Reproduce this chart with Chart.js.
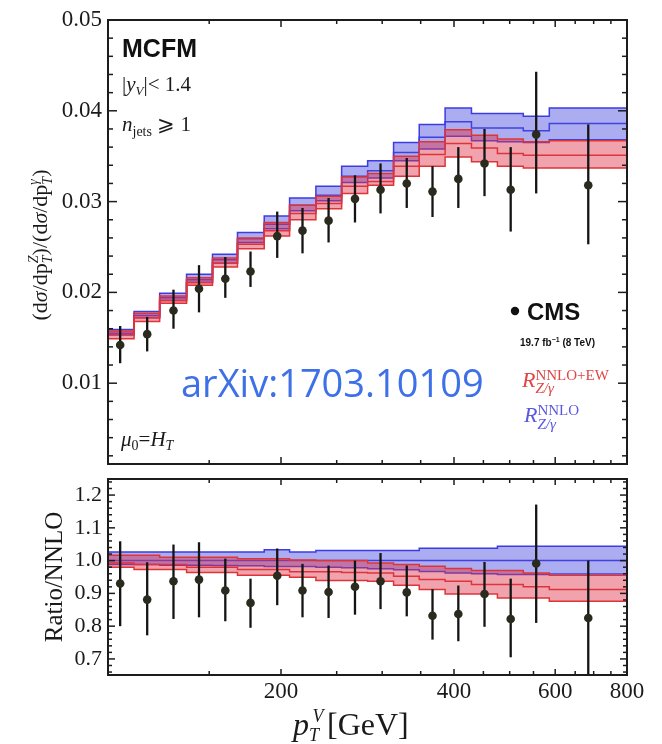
<!DOCTYPE html>
<html>
<head>
<meta charset="utf-8">
<script src="https://cdn.jsdelivr.net/npm/chart.js@4.4.1/dist/chart.umd.min.js"></script>
<style>
  html, body { margin: 0; padding: 0; background: #ffffff; }
  #wrap { position: relative; width: 662px; height: 744px; overflow: hidden; }
  #topPanel { position: absolute; left: 0; top: 0; }
  #ratioPanel { position: absolute; left: 0; top: 458px; }
</style>
</head>
<body>
<div id="wrap">
  <canvas id="topPanel" width="662" height="485"></canvas>
  <canvas id="ratioPanel" width="662" height="286"></canvas>
</div>
<script>
// pT bin edges [GeV] and the point positions inside each bin
const binEdges = [100, 111, 123, 137, 152, 168, 187, 207, 230, 255, 283, 314, 348, 386, 429, 476, 528, 586, 800];
const ptCenters = [105, 117, 130, 144, 160, 177, 197, 218, 242, 269, 298, 331, 367, 407, 452, 502, 556, 685];

// CMS measurement of the Z/gamma ratio (value, lower and upper end of error bar)
const cmsRatio = [0.0142, 0.0154, 0.0180, 0.0204, 0.0215, 0.0223, 0.0262, 0.0268, 0.0279, 0.0303, 0.0313, 0.0320, 0.0311, 0.0325, 0.0342, 0.0313, 0.0374, 0.0318];
const cmsLo    = [0.0122, 0.0135, 0.0160, 0.0178, 0.0194, 0.0206, 0.0238, 0.0243, 0.0255, 0.0277, 0.0287, 0.0293, 0.0283, 0.0293, 0.0306, 0.0267, 0.0309, 0.0253];
const cmsHi    = [0.0163, 0.0173, 0.0203, 0.0230, 0.0239, 0.0245, 0.0289, 0.0293, 0.0304, 0.0329, 0.0342, 0.0348, 0.0339, 0.0360, 0.0380, 0.0360, 0.0443, 0.0385];

// MCFM NNLO prediction: upper edge, central value, lower edge per bin
const nnloUp  = [0.0159, 0.0179, 0.0199, 0.0220, 0.0242, 0.0266, 0.0284, 0.0304, 0.0317, 0.0339, 0.0345, 0.0365, 0.0385, 0.0403, 0.0397, 0.0397, 0.0394, 0.0403];
const nnloMid = [0.0155, 0.01745, 0.0194, 0.0214, 0.0236, 0.0259, 0.0275, 0.0296, 0.0307, 0.0328, 0.0334, 0.0354, 0.0371, 0.0388, 0.0381, 0.0381, 0.0378, 0.0386];
const nnloLo  = [0.0153, 0.0172, 0.0191, 0.0211, 0.0232, 0.0255, 0.0270, 0.0290, 0.0301, 0.0321, 0.0326, 0.0345, 0.0358, 0.0372, 0.0367, 0.0366, 0.0365, 0.0368];

// MCFM NNLO+EW prediction
const ewUp  = [0.01575, 0.0177, 0.0196, 0.0216, 0.0238, 0.0260, 0.0277, 0.0296, 0.0306, 0.0327, 0.0331, 0.0350, 0.0366, 0.0379, 0.0373, 0.0369, 0.0366, 0.0367];
const ewMid = [0.0154, 0.0172, 0.0191, 0.0211, 0.0232, 0.0253, 0.0268, 0.0287, 0.0298, 0.0317, 0.0322, 0.0339, 0.0352, 0.0364, 0.0359, 0.0353, 0.0351, 0.0351];
const ewLo  = [0.0149, 0.0168, 0.0188, 0.0208, 0.0228, 0.0248, 0.0262, 0.0280, 0.0292, 0.0309, 0.0318, 0.0328, 0.0339, 0.0349, 0.0344, 0.0339, 0.0337, 0.0337];

// Ratio to NNLO: data
const ratioCms = [0.930, 0.881, 0.937, 0.942, 0.909, 0.871, 0.954, 0.909, 0.904, 0.920, 0.937, 0.903, 0.832, 0.837, 0.898, 0.822, 0.991, 0.825];
const ratioLo  = [0.800, 0.772, 0.822, 0.827, 0.815, 0.795, 0.864, 0.827, 0.825, 0.835, 0.852, 0.830, 0.759, 0.754, 0.798, 0.705, 0.810, 0.600];
const ratioHi  = [1.059, 0.995, 1.049, 1.056, 1.006, 0.945, 1.037, 0.990, 0.985, 1.000, 1.023, 0.985, 0.913, 0.924, 0.996, 0.945, 1.171, 1.000];

// Ratio to NNLO: theory bands
const nnloRatioUp  = [1.026, 1.026, 1.026, 1.026, 1.026, 1.026, 1.033, 1.026, 1.031, 1.031, 1.031, 1.031, 1.038, 1.038, 1.038, 1.044, 1.044, 1.044];
const nnloRatioMid = [1.000, 1.000, 1.000, 1.000, 1.000, 1.000, 1.000, 1.000, 1.000, 1.000, 1.000, 1.000, 1.000, 1.000, 1.000, 1.000, 1.000, 1.000];
const nnloRatioLo  = [0.988, 0.988, 0.986, 0.986, 0.985, 0.984, 0.982, 0.982, 0.980, 0.978, 0.975, 0.972, 0.967, 0.962, 0.960, 0.958, 0.958, 0.959];
const ewRatioUp  = [1.016, 1.016, 1.010, 1.010, 1.010, 1.006, 1.006, 1.002, 1.000, 1.000, 0.993, 0.988, 0.983, 0.976, 0.970, 0.970, 0.962, 0.955];
const ewRatioMid = [0.993, 0.988, 0.988, 0.980, 0.980, 0.973, 0.973, 0.966, 0.966, 0.964, 0.962, 0.952, 0.942, 0.937, 0.927, 0.927, 0.920, 0.912];
const ewRatioLo  = [0.980, 0.973, 0.973, 0.964, 0.964, 0.955, 0.955, 0.949, 0.939, 0.939, 0.937, 0.925, 0.912, 0.898, 0.898, 0.886, 0.886, 0.876];

// Axis ticks and labels
const xMajorTicks = [200, 400, 600, 800];
const xMajorLabels = ['200', '400', '600', '800'];
const xMinorTicks = [150, 250, 300, 350, 450, 500, 550, 650, 700, 750];
const yTopTicks = [0.01, 0.02, 0.03, 0.04, 0.05];
const yTopLabels = ['0.01', '0.02', '0.03', '0.04', '0.05'];
const yRatioTicks = [0.7, 0.8, 0.9, 1.0, 1.1, 1.2];
const yRatioLabels = ['0.7', '0.8', '0.9', '1.0', '1.1', '1.2'];

const SERIF = '"Liberation Serif", "DejaVu Serif", serif';
const SANS = '"Liberation Sans", "DejaVu Sans", sans-serif';
const RED_LINE = 'rgb(224, 52, 52)';
const RED_FILL = 'rgba(222, 52, 72, 0.45)';
const BLUE_LINE = 'rgb(60, 60, 228)';
const BLUE_FILL = 'rgba(72, 72, 222, 0.45)';
const INK = '#1a1a1a';

// each bin value holds from its left edge to the next edge
function stepPoints(vals) {
  return binEdges.map((e, i) => ({ x: e, y: vals[Math.min(i, vals.length - 1)] }));
}
function markerPoints(vals) {
  return ptCenters.map((x, i) => ({ x: x, y: vals[i] }));
}

function stepLine(vals, color, fillTarget, fillColor) {
  return {
    data: stepPoints(vals),
    stepped: 'before',
    borderColor: color,
    borderWidth: 1.5,
    pointRadius: 0,
    backgroundColor: fillColor || 'transparent',
    fill: fillTarget === undefined ? false : fillTarget
  };
}

function datasetsFor(cms, ewU, ewM, ewL, nU, nM, nL) {
  return [
    { data: markerPoints(cms), showLine: false, pointRadius: 4.3, pointHoverRadius: 4.3,
      pointBackgroundColor: '#2b2a1e', pointBorderWidth: 0, borderColor: '#2b2a1e' },
    stepLine(ewU, RED_LINE, 3, RED_FILL),
    stepLine(ewM, RED_LINE),
    stepLine(ewL, RED_LINE),
    stepLine(nU, BLUE_LINE, 6, BLUE_FILL),
    stepLine(nM, BLUE_LINE),
    stepLine(nL, BLUE_LINE)
  ];
}

// Text with sub/superscripts. Parts: {t, f, dy, c} or {sup, sub, fs, fb, up, dn, c, pad}
function partWidth(ctx, p) {
  if (p.t !== undefined) { ctx.font = p.f; return ctx.measureText(p.t).width; }
  ctx.font = p.fs; const a = ctx.measureText(p.sup).width;
  ctx.font = p.fb; const b = ctx.measureText(p.sub).width;
  return Math.max(a, b) + (p.pad || 0);
}
function drawRich(ctx, x, y, parts, align, color) {
  let total = 0;
  parts.forEach(p => { total += partWidth(ctx, p); });
  let cx = align === 'center' ? x - total / 2 : x;
  ctx.textAlign = 'left';
  ctx.textBaseline = 'alphabetic';
  parts.forEach(p => {
    const w = partWidth(ctx, p);
    ctx.fillStyle = p.c || color || INK;
    if (p.t !== undefined) {
      ctx.font = p.f;
      ctx.fillText(p.t, cx, y + (p.dy || 0));
    } else {
      ctx.font = p.fs; ctx.fillText(p.sup, cx + (p.pad || 0) / 2, y + p.up);
      ctx.font = p.fb; ctx.fillText(p.sub, cx, y + p.dn);
    }
    cx += w;
  });
}

// Frame, inward tick marks, error bars and panel text
function makeDeco(cfg) {
  return {
    id: 'deco_' + cfg.name,
    beforeDatasetDraw(chart, args) {
      if (args.index !== 0) return;
      const ctx = chart.ctx, a = chart.chartArea;
      const xs = chart.scales.x, ys = chart.scales.y;
      ctx.save();
      ctx.beginPath();
      ctx.rect(a.left, a.top, a.right - a.left, a.bottom - a.top);
      ctx.clip();
      ctx.strokeStyle = '#141414';
      ctx.lineWidth = 2.3;
      cfg.lo.forEach((lo, i) => {
        const x = xs.getPixelForValue(ptCenters[i]);
        ctx.beginPath();
        ctx.moveTo(x, ys.getPixelForValue(lo));
        ctx.lineTo(x, ys.getPixelForValue(cfg.hi[i]));
        ctx.stroke();
      });
      ctx.restore();
    },
    afterDraw(chart) {
      const ctx = chart.ctx, a = chart.chartArea;
      const xs = chart.scales.x, ys = chart.scales.y;
      ctx.save();
      ctx.strokeStyle = '#1c1c1c';
      ctx.lineWidth = 1.5;
      const seg = (x1, y1, x2, y2) => { ctx.beginPath(); ctx.moveTo(x1, y1); ctx.lineTo(x2, y2); ctx.stroke(); };
      xMajorTicks.forEach(v => {
        const x = xs.getPixelForValue(v);
        seg(x, a.top, x, a.top + cfg.xMaj); seg(x, a.bottom, x, a.bottom - cfg.xMaj);
      });
      xMinorTicks.forEach(v => {
        const x = xs.getPixelForValue(v);
        seg(x, a.top, x, a.top + cfg.xMin); seg(x, a.bottom, x, a.bottom - cfg.xMin);
      });
      cfg.yMajor.forEach(v => {
        const y = ys.getPixelForValue(v);
        seg(a.left, y, a.left + cfg.yMaj, y); seg(a.right, y, a.right - cfg.yMaj, y);
      });
      cfg.yMinor.forEach(v => {
        const y = ys.getPixelForValue(v);
        if (y < a.top || y > a.bottom) return;
        seg(a.left, y, a.left + cfg.yMin, y); seg(a.right, y, a.right - cfg.yMin, y);
      });
      ctx.lineWidth = 2;
      ctx.strokeRect(a.left, a.top, a.right - a.left, a.bottom - a.top);
      cfg.text(ctx, chart);
      ctx.restore();
    }
  };
}

function minorList(start, stop, step, majors) {
  const out = [];
  for (let k = 0; start + k * step <= stop + 1e-9; k++) {
    const v = +(start + k * step).toFixed(4);
    if (!majors.some(m => Math.abs(m - v) < 1e-6)) out.push(v);
  }
  return out;
}

function baseOptions(yMin, yMax, yTicks, yLabels, yFont, xShown, xHeight) {
  return {
    responsive: false,
    animation: false,
    events: [],
    plugins: { legend: { display: false }, tooltip: { enabled: false } },
    scales: {
      x: {
        type: 'logarithmic', min: 100, max: 800,
        display: xShown,
        grid: { display: false, drawTicks: false },
        border: { display: false },
        afterBuildTicks: (s) => { s.ticks = xMajorTicks.map(v => ({ value: v })); },
        afterFit: (s) => { s.height = xHeight; },
        ticks: {
          autoSkip: false, maxRotation: 0, minRotation: 0, padding: 3,
          font: { family: SERIF, size: 23 }, color: INK,
          callback: (v, i) => xMajorLabels[i]
        }
      },
      y: {
        type: 'linear', min: yMin, max: yMax,
        grid: { display: false, drawTicks: false },
        border: { display: false },
        afterBuildTicks: (s) => { s.ticks = yTicks.map(v => ({ value: v })); },
        afterFit: (s) => { s.width = 108; },
        ticks: {
          autoSkip: false, padding: 6,
          font: { family: SERIF, size: yFont }, color: INK,
          callback: (v, i) => yLabels[i]
        }
      }
    }
  };
}

// ---------- upper panel: ratio of distributions ----------
const topOpts = baseOptions(0.0011, 0.05, yTopTicks, yTopLabels, 23, false, 0);
topOpts.layout = { padding: { left: 0, top: 20, right: 35, bottom: 21 } };

new Chart(document.getElementById('topPanel'), {
  type: 'line',
  data: { datasets: datasetsFor(cmsRatio, ewUp, ewMid, ewLo, nnloUp, nnloMid, nnloLo) },
  options: topOpts,
  plugins: [makeDeco({
    name: 'top', lo: cmsLo, hi: cmsHi,
    xMaj: 7, xMin: 4, yMaj: 9, yMin: 5,
    yMajor: yTopTicks, yMinor: minorList(0.002, 0.05, 0.002, yTopTicks),
    text(ctx) {
      // axis title, rotated
      ctx.save();
      ctx.translate(47, 245);
      ctx.rotate(-Math.PI / 2);
      const f = '22px ' + SERIF, fi = 'italic 22px ' + SERIF;
      const smi = 'italic 14px ' + SERIF;
      drawRich(ctx, 0, 0, [
        { t: '(d', f: f }, { t: 'σ', f: fi }, { t: '/dp', f: f },
        { sup: 'Z', sub: 'T', fs: smi, fb: smi, up: -9, dn: 5 },
        { t: ')/(d', f: f }, { t: 'σ', f: fi }, { t: '/dp', f: f },
        { sup: 'γ', sub: 'T', fs: smi, fb: smi, up: -9, dn: 5 },
        { t: ')', f: f }
      ], 'center');
      ctx.restore();

      ctx.fillStyle = '#111';
      ctx.textAlign = 'left';
      ctx.font = 'bold 25px ' + SANS;
      ctx.fillText('MCFM', 122, 57);
      const t = '21px ' + SERIF, ti = 'italic 21px ' + SERIF;
      drawRich(ctx, 122, 91, [
        { t: '|', f: t }, { t: 'y', f: ti }, { t: 'V', f: 'italic 13px ' + SERIF, dy: 4 }, { t: '|< 1.4', f: t }
      ]);
      drawRich(ctx, 122, 131, [
        { t: 'n', f: ti }, { t: 'jets', f: '14px ' + SERIF, dy: 5 }, { t: ' ⩾ 1', f: t }
      ]);
      drawRich(ctx, 121, 446, [
        { t: 'μ', f: ti }, { t: '0', f: '14px ' + SERIF, dy: 4 }, { t: '=', f: t },
        { t: 'H', f: ti }, { t: 'T', f: 'italic 14px ' + SERIF, dy: 4 }
      ]);

      ctx.fillStyle = '#3e70e8';
      ctx.font = '38px "Open Sans", "Noto Sans", sans-serif';
      ctx.textAlign = 'left';
      ctx.fillText('arXiv:1703.10109', 181, 397);

      // legend
      ctx.fillStyle = '#111';
      ctx.beginPath(); ctx.arc(515, 311, 4.2, 0, Math.PI * 2); ctx.fill();
      ctx.font = 'bold 24px ' + SANS;
      ctx.fillText('CMS', 527, 320);
      drawRich(ctx, 520, 346, [
        { t: '19.7 fb', f: 'bold 10px ' + SANS }, { t: '−1', f: 'bold 7px ' + SANS, dy: -4 },
        { t: ' (8 TeV)', f: 'bold 10px ' + SANS }
      ], 'left', '#111');
      const red = '#e04646', blue = '#5b58dc';
      drawRich(ctx, 522, 387, [
        { t: 'R', f: 'italic 22px ' + SERIF },
        { sup: 'NNLO+EW', sub: 'Z/γ', fs: '15px ' + SERIF, fb: 'italic 15px ' + SERIF, up: -7, dn: 6 }
      ], 'left', red);
      drawRich(ctx, 524, 422, [
        { t: 'R', f: 'italic 22px ' + SERIF },
        { sup: 'NNLO', sub: 'Z/γ', fs: '15px ' + SERIF, fb: 'italic 15px ' + SERIF, up: -7, dn: 7 }
      ], 'left', blue);
    }
  })]
});

// ---------- lower panel: ratio to NNLO ----------
const botOpts = baseOptions(0.651, 1.249, yRatioTicks, yRatioLabels, 22, true, 69);
botOpts.layout = { padding: { left: 0, top: 21, right: 35, bottom: 0 } };

new Chart(document.getElementById('ratioPanel'), {
  type: 'line',
  data: { datasets: datasetsFor(ratioCms, ewRatioUp, ewRatioMid, ewRatioLo, nnloRatioUp, nnloRatioMid, nnloRatioLo) },
  options: botOpts,
  plugins: [makeDeco({
    name: 'ratio', lo: ratioLo, hi: ratioHi,
    xMaj: 6, xMin: 4, yMaj: 7, yMin: 4,
    yMajor: yRatioTicks, yMinor: minorList(0.66, 1.24, 0.02, yRatioTicks),
    text(ctx, chart) {
      ctx.save();
      ctx.translate(62, 119);
      ctx.rotate(-Math.PI / 2);
      drawRich(ctx, 0, 0, [{ t: 'Ratio/NNLO', f: '25px ' + SERIF }], 'center');
      ctx.restore();
      const base = chart.chartArea.bottom + 60;
      drawRich(ctx, 293, base, [
        { t: 'p', f: 'italic 32px ' + SERIF },
        { sup: 'V', sub: 'T', fs: 'italic 18px ' + SERIF, fb: 'italic 18px ' + SERIF, up: -13, dn: 6, pad: 7 },
        { t: '[GeV]', f: '32px ' + SERIF }
      ]);
    }
  })]
});
</script>
</body>
</html>
